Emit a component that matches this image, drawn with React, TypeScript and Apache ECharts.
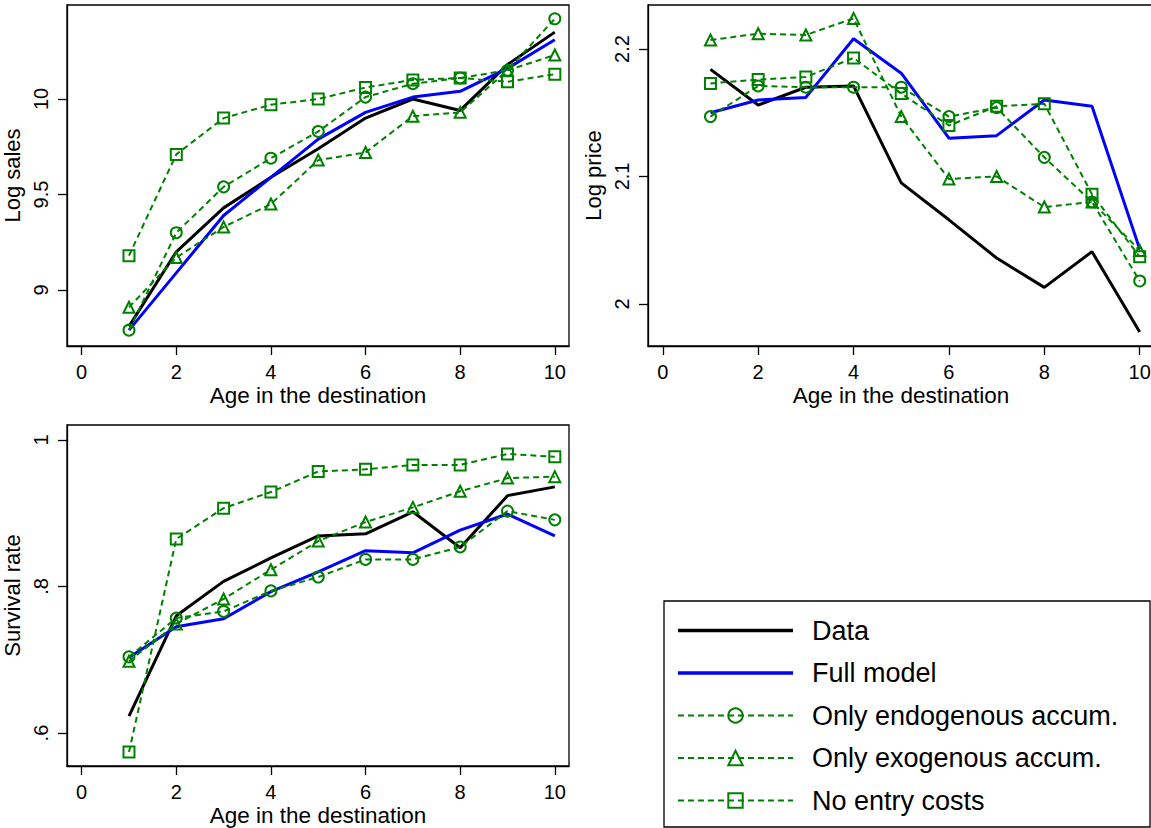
import { useEffect, useRef } from 'react';
import * as echarts from 'echarts';

const FONT = '"Liberation Sans", Arial, Helvetica, sans-serif';
const GREEN = '#008000';

const ages = [1, 2, 3, 4, 5, 6, 7, 8, 9, 10];
const xTicks = [0, 2, 4, 6, 8, 10];

const seriesNames = [
  'Data',
  'Full model',
  'Only endogenous accum.',
  'Only exogenous accum.',
  'No entry costs',
];

// Log sales
const salesData = [8.81, 9.2, 9.43, 9.59, 9.74, 9.9, 10.0, 9.94, 10.18, 10.35];
const salesFull = [8.79, 9.09, 9.39, 9.59, 9.79, 9.93, 10.01, 10.04, 10.16, 10.31];
const salesEndog = [8.79, 9.3, 9.54, 9.69, 9.83, 10.01, 10.08, 10.11, 10.15, 10.42];
const salesExog = [8.91, 9.17, 9.33, 9.45, 9.68, 9.72, 9.91, 9.93, 10.15, 10.23];
const salesNoEntry = [9.18, 9.71, 9.9, 9.97, 10.0, 10.06, 10.1, 10.11, 10.09, 10.13];
const salesTicks = [9, 9.5, 10];

// Log price
const priceData = [2.184, 2.156, 2.17, 2.171, 2.095, 2.066, 2.036, 2.013, 2.041, 1.978];
const priceFull = [2.15, 2.16, 2.162, 2.208, 2.181, 2.13, 2.132, 2.16, 2.155, 2.043];
const priceEndog = [2.147, 2.171, 2.17, 2.17, 2.17, 2.147, 2.154, 2.115, 2.08, 2.018];
const priceExog = [2.207, 2.212, 2.211, 2.224, 2.147, 2.098, 2.1, 2.076, 2.08, 2.042];
const priceNoEntry = [2.173, 2.176, 2.178, 2.193, 2.165, 2.14, 2.155, 2.157, 2.086, 2.037];
const priceTicks = [2, 2.1, 2.2];

// Survival rate
const survData = [0.623, 0.76, 0.807, 0.839, 0.869, 0.872, 0.902, 0.853, 0.924, 0.936];
const survFull = [0.703, 0.745, 0.756, 0.793, 0.82, 0.849, 0.846, 0.877, 0.899, 0.869];
const survEndog = [0.704, 0.757, 0.766, 0.794, 0.813, 0.837, 0.837, 0.854, 0.903, 0.891];
const survExog = [0.698, 0.749, 0.783, 0.823, 0.862, 0.888, 0.908, 0.93, 0.948, 0.95];
const survNoEntry = [0.574, 0.865, 0.907, 0.929, 0.957, 0.96, 0.966, 0.966, 0.981, 0.977];
const survTicks = [0.6, 0.8, 1];

const styleFor = (name: string) => {
  if (name === 'Data') {
    return { color: '#000', symbol: 'none', showSymbol: false, lineStyle: { color: '#000', width: 3 } };
  }
  if (name === 'Full model') {
    return { color: '#0000ff', symbol: 'none', showSymbol: false, lineStyle: { color: '#0000ff', width: 3 } };
  }
  const symbol =
    name === 'Only endogenous accum.' ? 'circle' : name === 'Only exogenous accum.' ? 'triangle' : 'rect';
  return {
    color: GREEN,
    symbol,
    symbolSize: 11,
    showSymbol: true,
    itemStyle: { color: 'rgba(0,0,0,0)', borderColor: GREEN, borderWidth: 2 },
    lineStyle: { color: GREEN, width: 2, type: [6, 4] },
  };
};

const makeSeries = (gridIndex: number, groups: number[][]) =>
  groups.map((values, i) => ({
    type: 'line',
    name: seriesNames[i],
    xAxisIndex: gridIndex,
    yAxisIndex: gridIndex,
    data: values.map((v, j) => [ages[j], v]),
    emphasis: { disabled: true },
    ...styleFor(seriesNames[i]),
  }));

const tickLine = { color: '#000', width: 1.3 };

const makeX = (gridIndex: number) => ({
  type: 'value',
  gridIndex,
  min: -0.31,
  max: 10.3,
  name: 'Age in the destination',
  nameLocation: 'middle',
  nameGap: 38,
  nameTextStyle: { fontSize: 22.5, color: '#000', fontFamily: FONT },
  axisLine: { show: true, onZero: false, lineStyle: tickLine },
  axisTick: { show: true, length: 9, customValues: xTicks, lineStyle: tickLine },
  axisLabel: { customValues: xTicks, fontSize: 20, margin: 16, color: '#000', fontFamily: FONT },
  splitLine: { show: false },
});

const makeY = (
  gridIndex: number,
  name: string,
  min: number,
  max: number,
  ticks: number[],
  fmt?: (v: number) => string,
) => ({
  type: 'value',
  gridIndex,
  min,
  max,
  name,
  nameLocation: 'middle',
  nameGap: 44,
  nameTextStyle: { fontSize: 22, color: '#000', fontFamily: FONT },
  axisLine: { show: true, onZero: false, lineStyle: tickLine },
  axisTick: { show: true, length: 9, customValues: ticks, lineStyle: tickLine },
  axisLabel: {
    customValues: ticks,
    rotate: 90,
    fontSize: 20,
    margin: 16,
    color: '#000',
    fontFamily: FONT,
    formatter: fmt,
  },
  splitLine: { show: false },
});

const gridBase = { show: true, borderColor: '#000', borderWidth: 1.3, backgroundColor: 'transparent' };
const solidIcon = 'path://M0,0H100V3H0Z';

export default function App() {
  const ref = useRef<HTMLDivElement>(null);

  useEffect(() => {
    if (!ref.current) return;
    const chart = echarts.init(ref.current, undefined, { renderer: 'svg' });

    chart.setOption({
      animation: false,
      backgroundColor: '#fff',
      textStyle: { fontFamily: FONT },
      grid: [
        { ...gridBase, left: 63, top: 5, width: 506, height: 341 },
        { ...gridBase, left: 648, top: 5, width: 506, height: 341 },
        { ...gridBase, left: 63, top: 425, width: 506, height: 341 },
      ],
      xAxis: [makeX(0), makeX(1), makeX(2)],
      yAxis: [
        makeY(0, 'Log sales', 8.707, 10.492, salesTicks),
        makeY(1, 'Log price', 1.967, 2.2345, priceTicks),
        makeY(2, 'Survival rate', 0.555, 1.0205, survTicks, (v: number) =>
          v === 1 ? '1' : String(v).replace(/^0/, ''),
        ),
      ],
      legend: {
        orient: 'vertical',
        left: 677,
        top: 617,
        padding: 0,
        itemWidth: 115,
        itemHeight: 18,
        itemGap: 15.5,
        selectedMode: false,
        textStyle: { fontSize: 27, lineHeight: 26, color: '#000', fontFamily: FONT, padding: [0, 0, 0, 14] },
        data: [
          { name: 'Data', icon: solidIcon },
          { name: 'Full model', icon: solidIcon },
          'Only endogenous accum.',
          'Only exogenous accum.',
          'No entry costs',
        ],
      },
      graphic: [
        {
          type: 'rect',
          shape: { x: 664, y: 601, width: 486, height: 226 },
          style: { fill: 'none', stroke: '#000', lineWidth: 1.3 },
        },
      ],
      series: [
        ...makeSeries(0, [salesData, salesFull, salesEndog, salesExog, salesNoEntry]),
        ...makeSeries(1, [priceData, priceFull, priceEndog, priceExog, priceNoEntry]),
        ...makeSeries(2, [survData, survFull, survEndog, survExog, survNoEntry]),
      ],
    });

    return () => chart.dispose();
  }, []);

  return (
    <div
      style={{
        position: 'fixed',
        left: 0,
        top: 0,
        width: 1151,
        height: 828,
        overflow: 'hidden',
        background: '#fff',
      }}
    >
      <div ref={ref} style={{ width: 1170, height: 828 }} />
    </div>
  );
}
